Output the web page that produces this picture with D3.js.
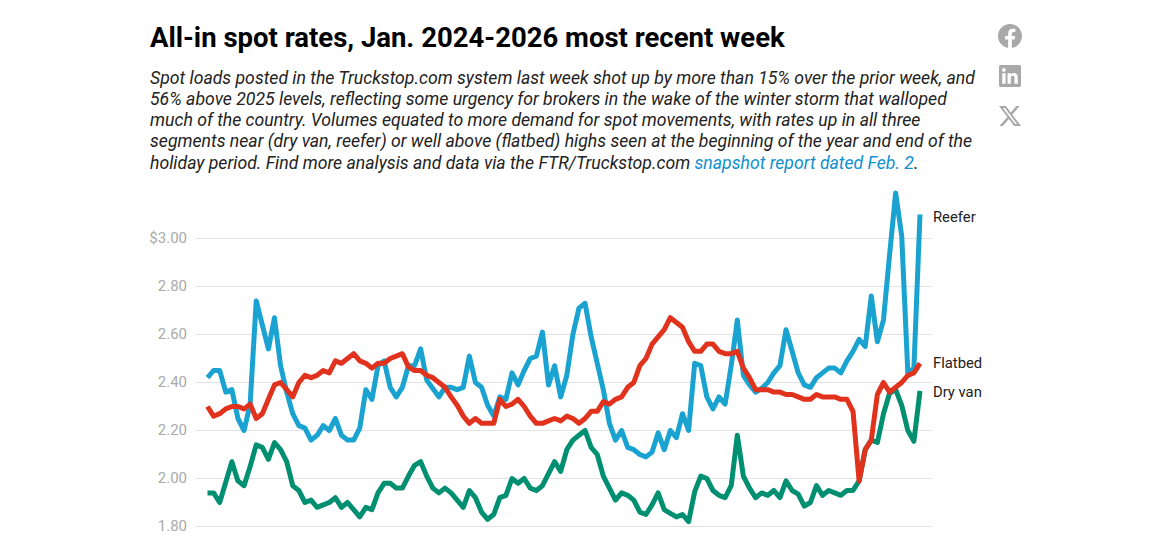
<!DOCTYPE html>
<html>
<head>
<meta charset="utf-8">
<script src="https://cdn.jsdelivr.net/npm/d3@7"></script>
<style>
  html, body { margin: 0; padding: 0; background: #fff; }
  svg { display: block; }
  text { font-family: Roboto, sans-serif; }
</style>
</head>
<body>
<svg id="chart" width="1153" height="559"></svg>
<script>
const title = "All-in spot rates, Jan. 2024-2026 most recent week"
const subtitleLines = [
  ["Spot loads posted in the Truckstop.com system last week shot up by more than 15% over the prior week, and"],
  ["56% above 2025 levels, reflecting some urgency for brokers in the wake of the winter storm that walloped"],
  ["much of the country. Volumes equated to more demand for spot movements, with rates up in all three"],
  ["segments near (dry van, reefer) or well above (flatbed) highs seen at the beginning of the year and end of the"],
  ["holiday period. Find more analysis and data via the FTR/Truckstop.com ", "snapshot report dated Feb. 2", "."]
]

const yTicks = [1.8, 2.0, 2.2, 2.4, 2.6, 2.8, 3.0]

const reefer = [
  2.42, 2.45, 2.45, 2.36, 2.37, 2.25, 2.20, 2.31, 2.74, 2.64,
  2.54, 2.67, 2.47, 2.36, 2.27, 2.22, 2.21, 2.16, 2.18, 2.22,
  2.20, 2.25, 2.18, 2.16, 2.16, 2.21, 2.37, 2.33, 2.47, 2.49,
  2.38, 2.34, 2.38, 2.47, 2.47, 2.54, 2.41, 2.375, 2.34, 2.38,
  2.38, 2.37, 2.38, 2.51, 2.40, 2.38, 2.305, 2.26, 2.34, 2.33,
  2.44, 2.39, 2.45, 2.50, 2.51, 2.61, 2.39, 2.47, 2.34, 2.43,
  2.60, 2.71, 2.73, 2.59, 2.48, 2.37, 2.23, 2.16, 2.20, 2.13,
  2.12, 2.10, 2.09, 2.11, 2.19, 2.12, 2.20, 2.17, 2.27, 2.20,
  2.48, 2.47, 2.34, 2.29, 2.34, 2.31, 2.47, 2.66, 2.43, 2.39,
  2.36, 2.375, 2.40, 2.44, 2.47, 2.62, 2.53, 2.44, 2.39, 2.38,
  2.42, 2.44, 2.46, 2.46, 2.44, 2.49, 2.53, 2.58, 2.55, 2.76,
  2.57, 2.66, 2.93, 3.19, 3.01, 2.44, 2.46, 3.10
]

const flatbed = [
  2.30, 2.26, 2.27, 2.29, 2.30, 2.30, 2.29, 2.31, 2.25, 2.27,
  2.33, 2.39, 2.40, 2.37, 2.34, 2.40, 2.43, 2.42, 2.43, 2.45,
  2.44, 2.49, 2.48, 2.50, 2.52, 2.49, 2.48, 2.46, 2.48, 2.48,
  2.50, 2.51, 2.52, 2.465, 2.45, 2.45, 2.43, 2.42, 2.40, 2.38,
  2.34, 2.305, 2.26, 2.23, 2.25, 2.23, 2.23, 2.23, 2.33, 2.30,
  2.31, 2.33, 2.30, 2.26, 2.23, 2.23, 2.24, 2.25, 2.24, 2.26,
  2.25, 2.23, 2.25, 2.28, 2.28, 2.32, 2.31, 2.33, 2.34, 2.38,
  2.40, 2.47, 2.50, 2.56, 2.59, 2.62, 2.67, 2.65, 2.63, 2.57,
  2.53, 2.53, 2.56, 2.56, 2.53, 2.52, 2.52, 2.53, 2.46, 2.42,
  2.37, 2.37, 2.37, 2.36, 2.36, 2.35, 2.35, 2.34, 2.33, 2.33,
  2.35, 2.34, 2.34, 2.34, 2.33, 2.33, 2.28, 1.99, 2.12, 2.16,
  2.35, 2.40, 2.36, 2.38, 2.40, 2.43, 2.44, 2.48
]

const dryVan = [
  1.94, 1.94, 1.90, 1.985, 2.07, 1.99, 1.97, 2.05, 2.14, 2.13,
  2.08, 2.15, 2.12, 2.07, 1.97, 1.95, 1.90, 1.91, 1.88, 1.89,
  1.90, 1.92, 1.88, 1.90, 1.87, 1.84, 1.88, 1.87, 1.94, 1.98,
  1.98, 1.96, 1.96, 2.01, 2.055, 2.07, 2.01, 1.96, 1.94, 1.96,
  1.94, 1.91, 1.88, 1.95, 1.92, 1.86, 1.83, 1.85, 1.92, 1.93,
  2.00, 1.98, 2.00, 1.96, 1.95, 1.97, 2.02, 2.07, 2.03, 2.12,
  2.16, 2.18, 2.20, 2.13, 2.10, 2.01, 1.96, 1.91, 1.94, 1.93,
  1.91, 1.86, 1.85, 1.89, 1.94, 1.87, 1.855, 1.84, 1.85, 1.82,
  1.945, 2.01, 2.00, 1.95, 1.93, 1.92, 1.97, 2.18, 2.01, 1.96,
  1.92, 1.94, 1.93, 1.95, 1.92, 1.99, 1.95, 1.935, 1.885, 1.90,
  1.97, 1.93, 1.95, 1.94, 1.93, 1.95, 1.95, 1.99, 2.12, 2.16,
  2.15, 2.27, 2.355, 2.37, 2.305, 2.20, 2.155, 2.365
]

// draw order matters, flatbed sits on top
const series = [
  { name: "Reefer", values: reefer, color: "#1aa3d0", labelY: 217 },
  { name: "Dry van", values: dryVan, color: "#008f71", labelY: 392 },
  { name: "Flatbed", values: flatbed, color: "#e0321c", labelY: 363 }
]

const icons = [
  { size: 24, x: 998, y: 24, d: "M24 12.073c0-6.627-5.373-12-12-12s-12 5.373-12 12c0 5.99 4.388 10.954 10.125 11.854v-8.385H7.078v-3.47h3.047V9.43c0-3.007 1.792-4.669 4.533-4.669 1.312 0 2.686.235 2.686.235v2.953H15.83c-1.491 0-1.956.925-1.956 1.874v2.25h3.328l-.532 3.47h-2.796v8.385C19.612 23.027 24 18.062 24 12.073z" },
  { size: 22, x: 999, y: 65, d: "M20.447 20.452h-3.554v-5.569c0-1.328-.027-3.037-1.852-3.037-1.853 0-2.136 1.445-2.136 2.939v5.667H9.351V9h3.414v1.561h.046c.477-.9 1.637-1.85 3.37-1.85 3.601 0 4.267 2.37 4.267 5.455v6.286zM5.337 7.433c-1.144 0-2.063-.926-2.063-2.065 0-1.138.92-2.063 2.063-2.063 1.14 0 2.064.925 2.064 2.063 0 1.139-.925 2.065-2.064 2.065zm1.782 13.019H3.555V9h3.564v11.452zM22.225 0H1.771C.792 0 0 .774 0 1.729v20.542C0 23.227.792 24 1.771 24h20.451C23.2 24 24 23.227 24 22.271V1.729C24 .774 23.2 0 22.222 0h.003z" },
  { size: 22, x: 999, y: 105, d: "M18.901 1.153h3.68l-8.04 9.19L24 22.846h-7.406l-5.8-7.584-6.638 7.584H.474l8.6-9.83L0 1.154h7.594l5.243 6.932ZM17.61 20.644h2.039L6.486 3.24H4.298Z" }
]

const svg = d3.select("#chart")

svg.append("text")
  .attr("x", 150)
  .attr("y", 46.5)
  .attr("font-size", 27.5)
  .attr("font-weight", 700)
  .attr("fill", "#000")
  .text(title)

// subtitle, last line has the link in the middle
const sub = svg.append("g").attr("id", "subtitle")
subtitleLines.forEach((parts, i) => {
  const line = sub.append("text")
    .attr("x", 150)
    .attr("y", 83.5 + i * 21.25)
    .attr("font-size", 17.65)
    .attr("font-style", "italic")
    .attr("fill", "#222")
  parts.forEach((p, j) => {
    line.append("tspan")
      .attr("fill", j === 1 ? "#0f90cf" : "#222")
      .text(p)
  })
})

const x = d3.scaleLinear().domain([0, reefer.length - 1]).range([207.5, 920])
const y = d3.scaleLinear().domain([1.8, 3.0]).range([526.5, 238.5])

const axisLayer = svg.append("g").attr("id", "axis")
const yAxis = d3.axisLeft(y)
  .tickValues(yTicks)
  .tickSize(0)
  .tickPadding(8)
  .tickFormat(d => d === 3 ? "$3.00" : d.toFixed(2))

axisLayer.append("g")
  .attr("transform", "translate(195,-0.5)")
  .call(yAxis)
  .call(g => g.select(".domain").remove())
  .call(g => g.selectAll("text")
    .attr("font-family", "Roboto, sans-serif")
    .attr("font-size", 15)
    .attr("fill", "#aaaaaa"))

axisLayer.selectAll("line.grid")
  .data(yTicks)
  .join("line")
  .attr("class", "grid")
  .attr("x1", 195)
  .attr("x2", 932)
  .attr("y1", d => y(d))
  .attr("y2", d => y(d))
  .attr("stroke", "#e3e3e3")
  .attr("stroke-width", 1)

const line = d3.line()
  .x((d, i) => x(i))
  .y(d => y(d))

const vizLayer = svg.append("g").attr("id", "viz")
vizLayer.selectAll("path")
  .data(series)
  .join("path")
  .attr("d", d => line(d.values))
  .attr("fill", "none")
  .attr("stroke", d => d.color)
  .attr("stroke-width", 5)
  .attr("stroke-linejoin", "round")

svg.append("g").attr("id", "labels")
  .selectAll("text")
  .data(series)
  .join("text")
  .attr("x", 933)
  .attr("y", d => d.labelY)
  .attr("dy", "0.35em")
  .attr("font-size", 14.8)
  .attr("fill", "#222")
  .text(d => d.name)

svg.append("g").attr("id", "icons")
  .selectAll("path")
  .data(icons)
  .join("path")
  .attr("transform", d => `translate(${d.x},${d.y}) scale(${d.size / 24})`)
  .attr("d", d => d.d)
  .attr("fill", "#a9a9a9")
</script>
</body>
</html>
